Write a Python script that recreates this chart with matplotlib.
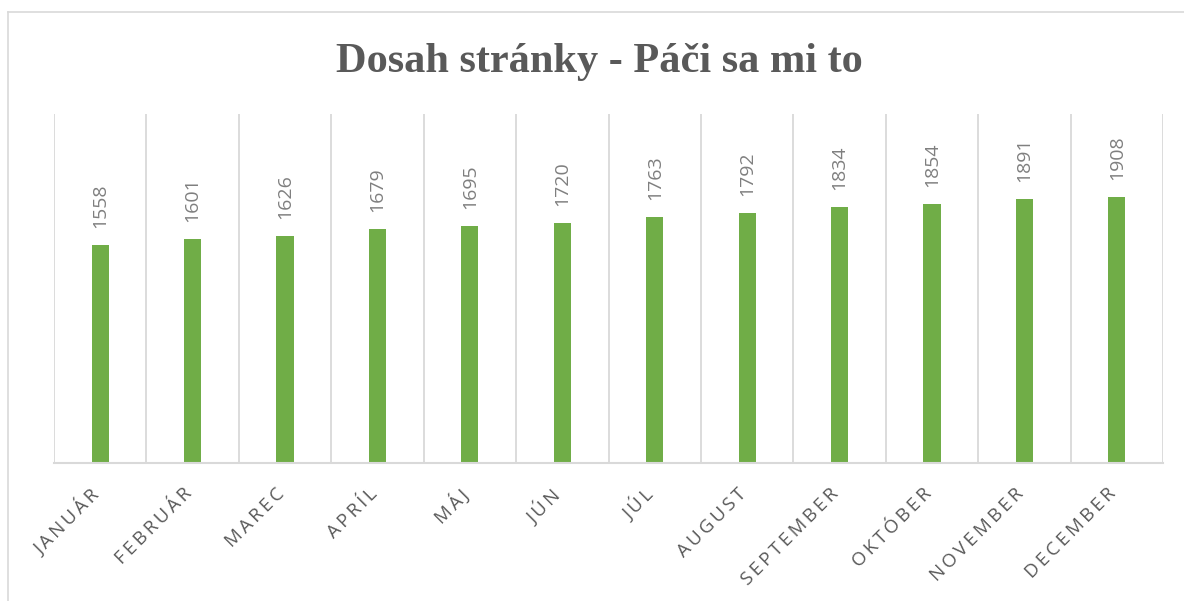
import numpy as np
import matplotlib
matplotlib.use("Agg")
import matplotlib.pyplot as plt
from matplotlib.lines import Line2D

# data
months = ["JANUÁR", "FEBRUÁR", "MAREC", "APRÍL", "MÁJ", "JÚN",
          "JÚL", "AUGUST", "SEPTEMBER", "OKTÓBER", "NOVEMBER", "DECEMBER"]
reach = [1558, 1601, 1626, 1679, 1695, 1720, 1763, 1792, 1834, 1854, 1891, 1908]
title = "Dosah stránky - Páči sa mi to"

W, H = 1184, 601
bar_color = "#70ad47"
grid_color = "#d9d9d9"


def spaced(s):
    # imitate Excel's letter spacing with thin spaces
    return "\u2009".join(s)


fig = plt.figure(figsize=(W / 100, H / 100), dpi=100)
fig.patch.set_facecolor("white")

# chart area border (top and left are visible)
fig.add_artist(Line2D([8 / W, 1.0], [1 - 12 / H, 1 - 12 / H], transform=fig.transFigure,
                      color=grid_color, lw=1.2))
fig.add_artist(Line2D([8 / W, 8 / W], [0.0, 1 - 12 / H], transform=fig.transFigure,
                      color=grid_color, lw=1.2))

left, right, top, base = 54, 1163, 114, 462.7
ax = fig.add_axes([left / W, 1 - base / H, (right - left) / W, (base - top) / H])

x = np.arange(len(months))
ax.bar(x, reach, width=0.185, color=bar_color, zorder=3)
ax.set_xlim(-0.5, len(months) - 0.5)
ax.set_ylim(0, 2500)

# category gridlines between months
ax.vlines(np.arange(len(months) + 1) - 0.5, 0, 2500, color=grid_color, lw=1.3, zorder=1)

for s in ["top", "left", "right"]:
    ax.spines[s].set_visible(False)
ax.spines["bottom"].set_color(grid_color)
ax.spines["bottom"].set_linewidth(1.5)
ax.spines["bottom"].set_zorder(4)
ax.set_yticks([])
ax.set_xticks(x)
ax.set_xticklabels([])
ax.tick_params(axis="x", length=0)

for xi, v in zip(x, reach):
    ax.annotate(str(v), (xi, v), xytext=(0, 17), textcoords="offset pixels",
                rotation=90, ha="center", va="bottom", fontsize=14,
                color="#7f7f7f", family=["Open Sans", "DejaVu Sans"])

for xi, m in zip(x, months):
    ax.annotate(spaced(m), (xi, 0), xytext=(3, -22), textcoords="offset pixels",
                rotation=45, ha="right", va="top", fontsize=13.5,
                color="#595959", family=["Open Sans", "DejaVu Sans"],
                annotation_clip=False)

fig.text(599 / W, 1 - 72 / H, title, ha="center", va="baseline",
         fontsize=30.5, fontweight="bold", color="#595959",
         family="Liberation Serif")

fig.savefig("out.png", dpi=100)
